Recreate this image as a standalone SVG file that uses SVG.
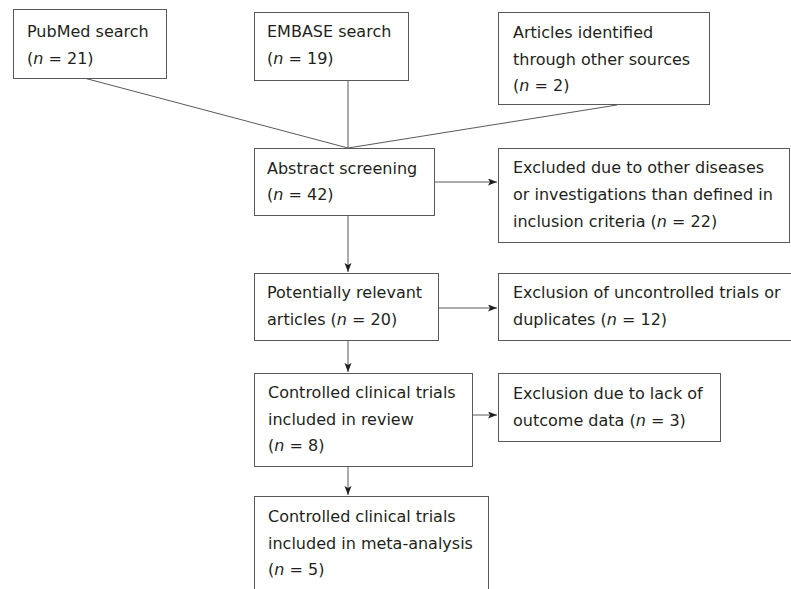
<svg xmlns="http://www.w3.org/2000/svg" width="791" height="589" viewBox="0 0 791 589">
<style>
  .box rect { fill: #ffffff; stroke: #58595b; stroke-width: 1; }
  .box text { font-family: "DejaVu Sans", Verdana, sans-serif; font-size: 16px; fill: #231f20; }
  .i { font-style: italic; }
  #connectors line { stroke: #58595b; stroke-width: 1; fill: none; }
  .arr { marker-end: url(#ah); }
</style>
<defs>
  <marker id="ah" markerUnits="userSpaceOnUse" markerWidth="10" markerHeight="8" refX="9" refY="3.5" orient="auto">
    <path d="M0,0 L9,3.5 L0,7 L2,3.5 z" fill="#231f20"/>
  </marker>
</defs>
<rect width="791" height="589" fill="#ffffff"/>

<g id="connectors">
  <line x1="84" y1="78" x2="348" y2="148"/>
  <line x1="348" y1="80" x2="348" y2="148"/>
  <line x1="617" y1="105" x2="348" y2="148"/>
  <line class="arr" x1="434" y1="182" x2="497" y2="182"/>
  <line class="arr" x1="348" y1="215" x2="348" y2="272"/>
  <line class="arr" x1="438" y1="308" x2="497" y2="308"/>
  <line class="arr" x1="348" y1="340" x2="348" y2="372"/>
  <line class="arr" x1="472" y1="415" x2="497" y2="415"/>
  <line class="arr" x1="348" y1="467" x2="348" y2="495"/>
</g>

<g id="pubmed" class="box">
  <rect x="13.5" y="9.5" width="153" height="69"/>
  <text x="27" y="37">PubMed search</text>
  <text x="27" y="64">(<tspan class="i">n</tspan> = 21)</text>
</g>

<g id="embase" class="box">
  <rect x="254.5" y="12.5" width="154" height="68"/>
  <text x="267" y="37">EMBASE search</text>
  <text x="267" y="64">(<tspan class="i">n</tspan> = 19)</text>
</g>

<g id="other" class="box">
  <rect x="498.5" y="12.5" width="211" height="92"/>
  <text x="513" y="38">Articles identified</text>
  <text x="513" y="65">through other sources</text>
  <text x="513" y="91">(<tspan class="i">n</tspan> = 2)</text>
</g>

<g id="abstract" class="box">
  <rect x="254.5" y="148.5" width="180" height="67"/>
  <text x="267" y="174">Abstract screening</text>
  <text x="267" y="200">(<tspan class="i">n</tspan> = 42)</text>
</g>

<g id="excluded1" class="box">
  <rect x="498.5" y="148.5" width="291" height="94"/>
  <text x="513" y="173">Excluded due to other diseases</text>
  <text x="513" y="200">or investigations than defined in</text>
  <text x="513" y="227">inclusion criteria (<tspan class="i">n</tspan> = 22)</text>
</g>

<g id="potential" class="box">
  <rect x="254.5" y="273.5" width="184" height="67"/>
  <text x="267" y="298">Potentially relevant</text>
  <text x="267" y="325">articles (<tspan class="i">n</tspan> = 20)</text>
</g>

<g id="excluded2" class="box">
  <rect x="498.5" y="273.5" width="310" height="67"/>
  <text x="513" y="298">Exclusion of uncontrolled trials or</text>
  <text x="513" y="325">duplicates (<tspan class="i">n</tspan> = 12)</text>
</g>

<g id="review" class="box">
  <rect x="254.5" y="373.5" width="218" height="93"/>
  <text x="268" y="398">Controlled clinical trials</text>
  <text x="268" y="425">included in review</text>
  <text x="268" y="451">(<tspan class="i">n</tspan> = 8)</text>
</g>

<g id="excluded3" class="box">
  <rect x="498.5" y="373.5" width="222" height="68"/>
  <text x="513" y="399">Exclusion due to lack of</text>
  <text x="513" y="426">outcome data (<tspan class="i">n</tspan> = 3)</text>
</g>

<g id="meta" class="box">
  <rect x="254.5" y="496.5" width="234" height="110"/>
  <text x="268" y="522">Controlled clinical trials</text>
  <text x="268" y="549">included in meta-analysis</text>
  <text x="268" y="575">(<tspan class="i">n</tspan> = 5)</text>
</g>
</svg>
